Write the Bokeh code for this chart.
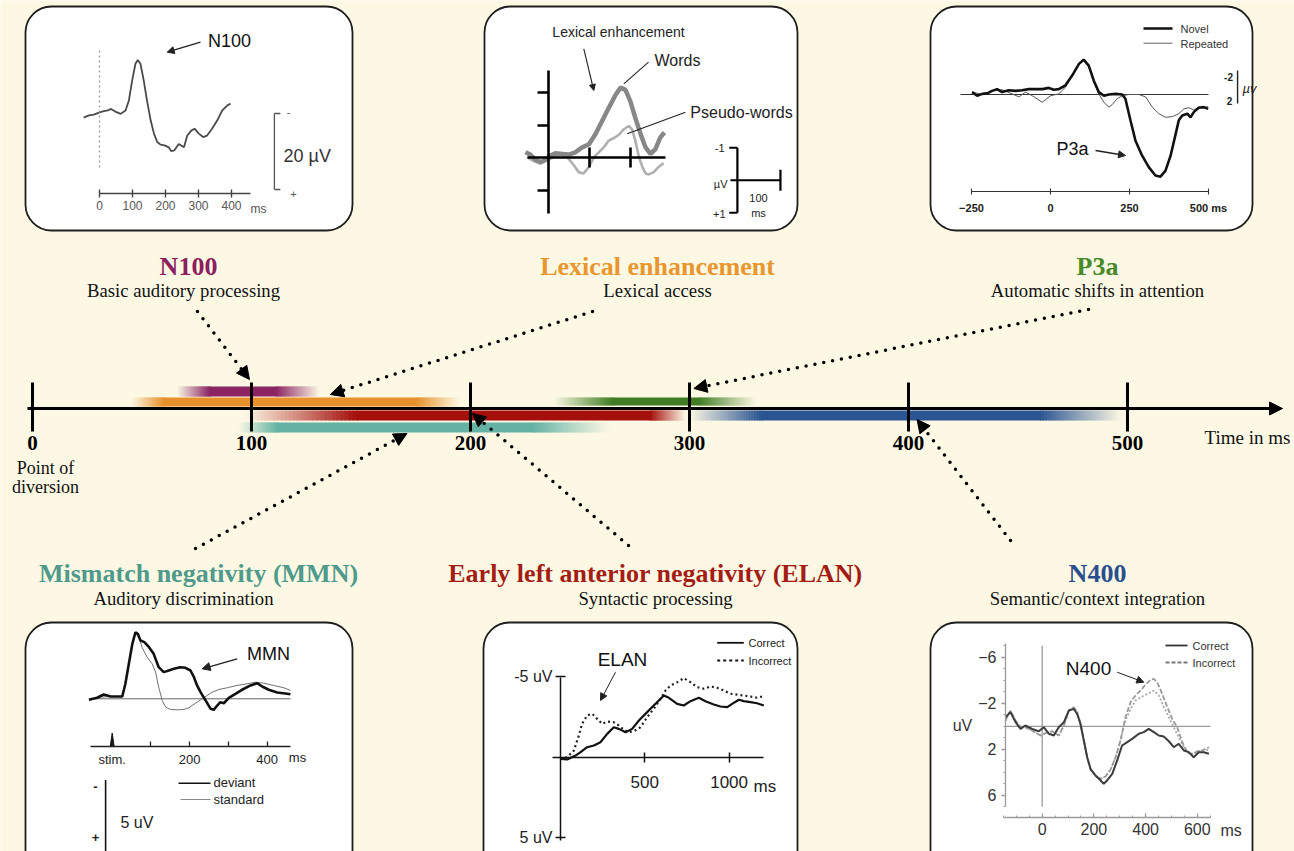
import numpy as np
from bokeh.plotting import figure
from bokeh.models import (Range1d, LinearAxis, FixedTicker, BoxAnnotation, Label,
                          Arrow, NormalHead)
from bokeh.embed import file_html
from bokeh.resources import INLINE

# ------------------------------------------------------------------ data
# timeline (ms)
timeline_ticks = [0, 100, 200, 300, 400, 500]
bar_names = ["N100", "Lexical enhancement", "ELAN", "MMN", "P3a", "N400"]
bar_colors = ["#8c2463", "#e8912b", "#a50f0c", "#63b2a4", "#3f7d22", "#2b5592"]
bar_fade_in_start = [66, 45, 97, 94, 238, 300]
bar_solid_start = [81, 60, 148, 112, 265, 333]
bar_solid_end = [111, 175, 282, 228, 304, 460]
bar_fade_out_end = [131, 195, 298, 263, 330, 497]
bar_lane_top = [386, 397, 410, 422, 397, 410]
bar_lane_bottom = [396, 406, 420, 432, 405, 420]

titles = ["N100", "Lexical enhancement", "P3a",
          "Mismatch negativity (MMN)", "Early left anterior negativity (ELAN)", "N400"]
subtitles = ["Basic auditory processing", "Lexical access", "Automatic shifts in attention",
             "Auditory discrimination", "Syntactic processing", "Semantic/context integration"]
title_colors = ["#8c1f60", "#e9962f", "#478a27", "#4f9a8b", "#a41d15", "#2a4f8f"]
arrow_target_ms = [100, 136, 302, 171, 200, 403]

# panel 1: N100 (ms, uV)
n100_t = [-48, -32, -17, 0, 13, 25, 35, 48, 64, 79, 89, 99, 109, 116, 124, 134, 144, 155, 165, 175,
          185, 197, 210, 217, 227, 240, 256, 266, 278, 288, 301, 314, 326, 341, 357, 372, 387, 397]
n100_v = [1.1, 0.5, 0.3, -0.3, -0.6, -0.8, -1.2, -0.5, 0.1, -0.8, -3.4, -8.7, -13.1, -14.1, -13.1, -8.7,
          -3.4, 1.8, 5.3, 7.5, 8.2, 8.4, 8.9, 9.9, 9.7, 8.0, 8.9, 5.8, 4.5, 4.0, 5.3, 6.2, 5.8, 4.0,
          1.8, -0.8, -2.1, -2.6]
n100_ticks = [0, 100, 200, 300, 400]

# panel 2: lexical enhancement (ms, uV)
words_t = [-57, -45, -32, -20, -8, 4, 16, 33, 49, 65, 81, 98, 114, 130, 146, 163, 175, 187, 199, 211,
           224, 236, 248, 260, 272, 282]
words_v = [-0.16, -0.09, 0.07, 0.14, 0.07, -0.06, -0.13, -0.11, -0.09, -0.16, -0.31, -0.41, -0.72,
           -1.12, -1.52, -1.93, -2.15, -2.08, -1.73, -1.22, -0.72, -0.31, -0.11, -0.26, -0.62, -0.77]
pseudo_t = [-53, -37, -20, -4, 12, 29, 45, 61, 73, 85, 98, 110, 122, 134, 146, 159, 171, 183, 195, 203,
            211, 220, 228, 236, 244, 256, 268, 280]
pseudo_v = [-0.01, 0.11, 0.19, 0.09, -0.01, -0.09, -0.01, 0.24, 0.45, 0.49, 0.29, -0.01, -0.16, -0.31,
            -0.52, -0.60, -0.70, -0.87, -0.97, -0.87, -0.52, -0.01, 0.29, 0.49, 0.52, 0.45, 0.29, 0.17]

# panel 3: P3a (ms, uV)
novel_t = [-248, -232, -216, -200, -185, -169, -153, -132, -111, -90, -69, -47, -26, -5, 10, 26, 47, 69,
           90, 105, 121, 137, 153, 169, 185, 206, 227, 237, 253, 269, 290, 311, 332, 348, 364, 380, 396,
           406, 417, 433, 443, 454, 469, 485, 499]
novel_v = [-0.4, 0.2, -0.1, -0.2, -0.6, -0.9, -0.4, -0.7, -0.6, -0.7, -0.9, -0.9, -0.9, -1.1, -0.8, -0.9,
           -1.5, -3.2, -5.1, -5.8, -4.8, -2.3, -0.4, 0.2, 0.0, -0.1, 0.0, 0.7, 4.3, 7.7, 10.2, 12.1, 13.5,
           13.7, 12.7, 10.2, 6.6, 4.3, 3.5, 3.2, 3.8, 2.9, 2.2, 2.1, 2.4]
repeated_t = [-248, -216, -185, -153, -121, -100, -79, -58, -26, 0, 26, 47, 69, 90, 105, 121, 137, 153,
              169, 185, 195, 211, 227, 248, 280, 301, 322, 343, 364, 385, 406, 422, 438, 454, 469, 485, 499]
repeated_v = [-0.4, 0.0, -0.6, -0.8, -0.1, 0.4, -0.4, 0.2, 1.3, 0.2, -0.1, -1.2, -3.3, -5.0, -5.7, -4.6,
              -2.1, -0.1, 1.3, 2.1, 1.7, 0.7, 0.2, 0.0, 0.0, 0.4, 2.1, 3.2, 3.8, 3.7, 3.2, 2.4, 2.2, 2.6,
              2.1, 2.2, 2.0]
p3a_ticks = [-250, 0, 250, 500]

# panel 4: MMN (ms, uV)
deviant_t = [-60, -39, -22, -4, 13, 26, 34, 43, 52, 60, 66, 73, 83, 95, 107, 120, 133, 146, 159, 176,
             189, 202, 211, 219, 228, 241, 254, 262, 271, 279, 288, 301, 318, 335, 357, 374, 387, 404,
             426, 447, 460]
deviant_v = [0.08, -0.08, -0.34, -0.18, -0.18, -0.18, -1.18, -2.76, -4.33, -5.24, -5.12, -4.59, -4.46,
             -4.06, -3.54, -2.49, -2.1, -2.23, -2.36, -2.49, -2.44, -2.23, -1.7, -1.05, -0.52, 0.13,
             0.79, 0.87, 0.53, 0.27, 0.35, -0.08, -0.39, -0.71, -1.05, -1.23, -0.97, -0.71, -0.5,
             -0.42, -0.36]
standard_t = [-60, -30, -4, 26, 34, 43, 52, 60, 69, 77, 90, 103, 112, 120, 129, 138, 150, 168, 185, 198,
              206, 219, 232, 245, 258, 275, 297, 322, 348, 370, 391, 417, 443, 460]
standard_v = [0.08, -0.13, -0.18, -0.18, -1.18, -2.76, -4.33, -5.16, -4.85, -4.06, -3.28, -2.76, -2.1,
              -0.92, 0.13, 0.66, 0.84, 0.87, 0.84, 0.71, 0.53, 0.27, 0.0, -0.26, -0.52, -0.73, -0.87,
              -1.05, -1.18, -1.31, -1.23, -1.05, -0.87, -0.66]
mmn_ticks = [0, 100, 200, 300, 400]
mmn_tick_labels = {0: "stim.", 100: " ", 200: "200", 300: " ", 400: "400"}

# panel 5: ELAN (ms, uV)
elan_correct_t = [0, 40, 89, 119, 158, 198, 237, 277, 316, 346, 386, 425, 465, 514, 553, 583, 613, 643,
                  692, 731, 771, 820, 860, 909, 949, 989, 1018, 1058, 1087, 1127, 1166, 1206]
elan_correct_v = [0.1, 0.14, -0.1, -0.31, -0.62, -0.73, -0.93, -1.45, -1.86, -1.76, -1.55, -1.76, -2.28,
                  -2.8, -3.21, -3.52, -3.83, -3.69, -3.31, -3.21, -3.48, -3.69, -3.48, -3.27, -3.15,
                  -3.11, -3.31, -3.57, -3.48, -3.42, -3.35, -3.21]
elan_incorrect_t = [0, 40, 79, 109, 128, 158, 188, 218, 247, 277, 316, 346, 376, 405, 435, 474, 514, 553,
                    593, 623, 652, 692, 731, 771, 811, 850, 890, 929, 969, 1008, 1048, 1087, 1127, 1166,
                    1196]
elan_incorrect_v = [0.1, 0.0, -0.41, -1.35, -2.07, -2.59, -2.7, -2.38, -2.07, -2.22, -2.17, -1.97, -1.7,
                    -1.55, -1.61, -1.86, -2.48, -3.0, -3.63, -4.14, -4.45, -4.66, -4.91, -4.66, -4.35,
                    -4.25, -4.39, -4.31, -4.14, -3.94, -3.89, -3.83, -3.77, -3.69, -3.77]
elan_x_ticks = [500, 1000]
elan_y_ticks = [-5, 5]

# panel 6: N400 (ms, uV)
n400_correct_t = [-142, -123, -103, -84, -65, -39, -13, 6, 26, 45, 64, 84, 103, 122, 135, 148, 161, 174,
                  187, 206, 226, 238, 251, 271, 290, 309, 329, 348, 374, 393, 412, 432, 451, 470, 490,
                  509, 528, 548, 567, 586, 606, 625, 645]
n400_correct_v = [-0.79, -1.23, -0.36, 0.22, -0.07, 0.22, 0.43, 0.08, 0.65, 0.8, 0.08, -0.36, -1.37,
                  -1.52, -1.09, -0.22, 1.23, 2.69, 3.7, 4.28, 4.71, 5.0, 4.71, 4.13, 2.97, 1.67, 1.38,
                  1.09, 0.65, 0.51, 0.22, 0.51, 0.8, 0.89, 1.3, 1.82, 1.52, 2.1, 2.25, 2.69, 2.25, 2.25,
                  2.39]
n400_incorrect_t = [-142, -123, -103, -84, -65, -39, -7, 13, 39, 64, 84, 103, 122, 135, 148, 161, 174,
                    187, 206, 226, 245, 264, 284, 303, 322, 342, 361, 380, 400, 419, 432, 445, 464, 484,
                    503, 522, 542, 561, 580, 600, 619, 645]
n400_incorrect_v = [-0.5, -1.37, -0.5, 0.08, 0.08, 0.37, 0.8, 0.6, 0.43, 0.8, -0.07, -1.37, -1.66,
                    -1.23, -0.22, 1.23, 2.69, 3.78, 4.28, 4.57, 4.36, 3.78, 2.69, 1.23, -0.79, -2.1,
                    -2.68, -3.11, -3.63, -4.04, -4.13, -3.83, -2.83, -1.66, -0.65, 0.08, 1.38, 2.25,
                    2.45, 2.17, 2.1, 1.82]
n400_incorrect2_t = [-142, -123, -103, -84, -65, -39, -7, 13, 39, 64, 84, 103, 122, 135, 148, 161, 174,
                     187, 206, 226, 245, 264, 284, 303, 322, 342, 361, 387, 413, 432, 451, 471, 490, 509,
                     528, 548, 567, 586, 606, 645]
n400_incorrect2_v = [-0.5, -1.37, -0.5, 0.08, 0.08, 0.37, 0.8, 0.6, 0.43, 0.8, -0.07, -1.37, -1.66,
                     -1.23, -0.22, 1.23, 2.69, 3.78, 4.28, 4.57, 4.36, 3.78, 2.69, 1.23, -0.5, -1.52,
                     -2.24, -2.59, -2.88, -3.11, -2.68, -1.66, -0.79, 0.08, 0.95, 1.82, 2.34, 2.39, 2.17,
                     2.05]
n400_x_ticks = [0, 200, 400, 600]
n400_y_ticks = [-6, -2, 2, 6]

# ------------------------------------------------------------------ figure
BG = "#fcf8e4"
W, H = 1294, 851
OX, OY = 0, 0
SANS = "Liberation Sans"
SERIF = "Liberation Serif"

p = figure(width=W, height=H, output_backend="svg", toolbar_location=None,
           x_range=Range1d(OX, OX + W), y_range=Range1d(OY + H, OY),
           x_axis_type=None, y_axis_type=None, min_border=0, title=None)
p.background_fill_color = BG
p.border_fill_color = BG
p.outline_line_color = None

XR, YR = {}, {}


def frame(name, xd, xp, yd, yp):
    d0, d1 = xd
    p0, p1 = xp
    s = (p1 - p0) / (d1 - d0)
    XR[name] = Range1d(start=d0 + (OX - p0) / s, end=d0 + (OX + W - p0) / s)
    v0, v1 = yd
    q0, q1 = yp
    t = (q1 - q0) / (v1 - v0)
    YR[name] = Range1d(start=v0 + (OY + H - q0) / t, end=v0 + (OY - q0) / t)


TL0, TL1 = 32, 1127
frame("tl", (0, 500), (TL0, TL1), (0, 1), (0, 1))
frame("p1", (0, 400), (99, 231), (0, 20), (113, 189))
frame("p2", (0, 100), (548.3, 589.3), (0, -1), (157, 124.5))
frame("p3", (0, 250), (1050, 1129), (0, 1), (94, 100))
frame("p4", (0, 400), (111.7, 266.7), (0, 1), (698.3, 711))
frame("p5", (0, 1000), (560, 728.6), (0, 1), (756.7, 772.8))
frame("p6", (0, 600), (1041.7, 1196.8), (0, 1), (725.8, 737.3))
p.extra_x_ranges = XR
p.extra_y_ranges = YR


def tl_px(ms):
    return TL0 + ms * (TL1 - TL0) / 500.0


def add_axis(fr, side, loc, bounds, ticks, minor=None, tin=0, tout=4, mtin=0, mtout=0,
             color="#222222", lw=1.5, size="12px", style="normal", font=SANS, lcolor="#222222",
             standoff=4, overrides=None, labels=True):
    ax = LinearAxis(x_range_name=fr, y_range_name=fr, fixed_location=loc, bounds=bounds,
                    ticker=FixedTicker(ticks=ticks, minor_ticks=minor or []),
                    axis_line_color=color, axis_line_width=lw,
                    major_tick_line_color=color, major_tick_line_width=lw,
                    major_tick_in=tin, major_tick_out=tout,
                    minor_tick_line_color=color, minor_tick_line_width=1,
                    minor_tick_in=mtin, minor_tick_out=mtout,
                    major_label_text_font=font, major_label_text_font_size=size,
                    major_label_text_font_style=style,
                    major_label_text_color=(lcolor if labels else None),
                    major_label_standoff=standoff)
    if overrides:
        ax.major_label_overrides = overrides
    p.add_layout(ax, side)
    return ax


def label(x, y, text, size="16px", font=SANS, color="#222222", align="center", style="normal"):
    p.add_layout(Label(x=x, y=y, text=text, text_font=font, text_font_size=size,
                       text_color=color, text_align=align, text_baseline="middle",
                       text_font_style=style))


def pointer(x0, y0, x1, y1, head=7, lw=1.3, color="#222222"):
    p.add_layout(Arrow(x_start=x0, y_start=y0, x_end=x1, y_end=y1, line_width=lw, line_color=color,
                       end=NormalHead(size=head, fill_color=color, line_color=color, line_width=1)))


def seg(x0, y0, x1, y1, fr="default", **kw):
    p.segment(x0=x0, y0=y0, x1=x1, y1=y1, x_range_name=fr, y_range_name=fr, **kw)


# ------------------------------------------------------------------ panel boxes
for (l, r, t, b) in [(25, 352, 6, 230), (484, 797, 6, 230), (930, 1252, 6, 230),
                     (25, 352, 622, 880), (483, 797, 622, 880), (930, 1252, 622, 880)]:
    p.add_layout(BoxAnnotation(left=l, right=r, top=t, bottom=b, border_radius=26,
                               fill_color="white", fill_alpha=1.0, line_color="#1e1e1e",
                               line_alpha=1.0, line_width=1.8, level="underlay"))

# ------------------------------------------------------------------ timeline bars


def blend(c, a):
    rgb = [int(c[i:i + 2], 16) for i in (1, 3, 5)]
    bg = [int(BG[i:i + 2], 16) for i in (1, 3, 5)]
    return "#%02x%02x%02x" % tuple(int(round(b0 + (v - b0) * a)) for v, b0 in zip(rgb, bg))


L, R, T, B, C = [], [], [], [], []
NS = 28
for i in range(len(bar_names)):
    s0, s1 = bar_fade_in_start[i], bar_solid_start[i]
    e0, e1 = bar_solid_end[i], bar_fade_out_end[i]
    for k in range(NS):
        L.append(s0 + (s1 - s0) * k / NS)
        R.append(s0 + (s1 - s0) * (k + 1) / NS + 0.5)
        C.append(blend(bar_colors[i], (k + 0.5) / NS))
        T.append(bar_lane_top[i]); B.append(bar_lane_bottom[i])
    L.append(s1); R.append(e0 + 0.5); C.append(bar_colors[i])
    T.append(bar_lane_top[i]); B.append(bar_lane_bottom[i])
    for k in range(NS):
        L.append(e0 + (e1 - e0) * k / NS)
        R.append(e0 + (e1 - e0) * (k + 1) / NS + 0.5)
        C.append(blend(bar_colors[i], 1 - (k + 0.5) / NS))
        T.append(bar_lane_top[i]); B.append(bar_lane_bottom[i])
p.quad(left=L, right=R, top=T, bottom=B, fill_color=C, line_color=None,
       x_range_name="tl", y_range_name="tl")

add_axis("tl", "below", 408, (-2.3, 565), timeline_ticks, tin=26, tout=23, color="black", lw=3,
         size="21px", style="bold", font=SERIF, lcolor="black", standoff=4)
p.add_layout(Arrow(x_start=1266, y_start=408, x_end=1282, y_end=408, line_width=3, line_color="black",
                   end=NormalHead(size=13, fill_color="black", line_color="black")))
label(45, 467, "Point of", size="18px", font=SERIF, color="#111111")
label(45, 486, "diversion", size="18px", font=SERIF, color="#111111")
label(1290, 437, "Time in ms", size="19px", font=SERIF, color="#111111", align="right")

# titles and dotted pointers
title_xy = [(188, 266), (657, 266), (1097, 266), (198, 573), (655, 573), (1097, 573)]
sub_xy = [(183, 290), (657, 290), (1097, 290), (183, 598), (655, 598), (1097, 598)]
arrow_start = [(197, 311), (592, 311), (1088, 309), (195, 548), (628, 545), (1010, 540)]
arrow_end_y = [379, 394, 388, 433, 413, 419]
arrow_dx = [-2, 0, 0, 0, 2, 2]
for i in range(6):
    label(*title_xy[i], titles[i], size="26px", font=SERIF, color=title_colors[i], style="bold")
    label(*sub_xy[i], subtitles[i], size="18.7px", font=SERIF, color="#111111")
    p.add_layout(Arrow(x_start=arrow_start[i][0], y_start=arrow_start[i][1],
                       x_end=tl_px(arrow_target_ms[i]) + arrow_dx[i], y_end=arrow_end_y[i],
                       line_width=3.5, line_color="black", line_dash="0 9", line_cap="round",
                       end=NormalHead(size=13, fill_color="black", line_color="black")))

# ------------------------------------------------------------------ panel 1: N100
p.line(n100_t, n100_v, x_range_name="p1", y_range_name="p1", line_color="#4a4a4a", line_width=1.8)
seg([0], [-16.6], [0], [15], fr="p1", line_color="#9a9a9a", line_width=1.3, line_dash="2 3")
add_axis("p1", "below", 21.05, (0, 458), n100_ticks, tin=4, tout=4, color="#444444", lw=1.4,
         size="12px", lcolor="#555555", standoff=4)
label(258, 208, "ms", size="12px", color="#555555")
seg([530, 530, 530], [0, 0, 20], [530, 548, 548], [20, 0, 20], fr="p1", line_color="#555555",
    line_width=1.3)
label(288, 111, "-", size="11px", color="#555555")
label(293, 193, "+", size="11px", color="#555555")
label(283, 155, "20 µV", size="18px", color="#333333", align="left")
label(229, 40, "N100", size="18px", color="#111111")
pointer(200, 41.7, 166.7, 51.7, head=7)

# ------------------------------------------------------------------ panel 2: lexical
p.line(pseudo_t, pseudo_v, x_range_name="p2", y_range_name="p2", line_color="#b0b0b0", line_width=2.6)
p.line(words_t, words_v, x_range_name="p2", y_range_name="p2", line_color="#878787", line_width=4.5)
add_axis("p2", "left", 0, (-2.68, 1.72), [-2, -1, 1], tin=0, tout=11, color="black", lw=2.6,
         labels=False)
add_axis("p2", "below", 0, (-53, 285), [100, 200], tin=10, tout=10, color="black", lw=2.6,
         labels=False)
seg([460, 440, 440, 443, 565], [-0.3, -0.3, 1.7, 0.7, 0.38], [460, 460, 460, 565, 565],
    [1.7, -0.3, 1.7, 0.7, 1.02], fr="p2", line_color="black", line_width=2.2)
label(724, 147, "-1", size="11px", align="right")
label(727, 183, "µV", size="11px", align="right")
label(725, 213, "+1", size="11px", align="right")
label(758, 197, "100", size="11px")
label(758, 212, "ms", size="11px")
label(618, 31, "Lexical enhancement", size="14px")
label(677, 60, "Words", size="16px")
label(741, 112, "Pseudo-words", size="16px")
pointer(583.3, 48.3, 593.3, 90, head=6, lw=1.1)
seg([648, 685], [61.7, 111.7], [623.3, 626.7], [83.3, 133.3], line_color="#222222", line_width=1.1)

# ------------------------------------------------------------------ panel 3: P3a
seg([-285], [0], [500], [0], fr="p3", line_color="#333333", line_width=1.0)
p.line(repeated_t, repeated_v, x_range_name="p3", y_range_name="p3", line_color="#555555",
       line_width=1.0)
p.line(novel_t, novel_v, x_range_name="p3", y_range_name="p3", line_color="#111111", line_width=2.6)
add_axis("p3", "below", 16.1, (-250, 500), p3a_ticks, tin=3, tout=3, color="#333333", lw=1.1,
         size="11px", style="bold", lcolor="#222222", standoff=8, overrides={500: "500 ms"})
seg([1143, 1143], [28, 42.7], [1172, 1172], [28, 42.7], line_color=["#111111", "#666666"],
    line_width=[2.5, 1.0])
label(1180, 28, "Novel", size="11px", color="#333333", align="left")
label(1180, 43, "Repeated", size="11px", color="#333333", align="left")
seg([592], [-4.0], [592], [1.5], fr="p3", line_color="#222222", line_width=1.4)
label(1228, 76, "-2", size="10px", style="bold", align="center")
label(1229, 100, "2", size="10px", style="bold", align="center")
label(1249, 88, "µv", size="13px", style="italic", align="center")
label(1072, 148, "P3a", size="18px", color="#111111")
pointer(1095, 150, 1125, 155, head=7)

# ------------------------------------------------------------------ panel 4: MMN
seg([-60], [0], [460], [0], fr="p4", line_color="#555555", line_width=0.9)
p.line(standard_t, standard_v, x_range_name="p4", y_range_name="p4", line_color="#707070",
       line_width=1.0)
p.line(deviant_t, deviant_v, x_range_name="p4", y_range_name="p4", line_color="#111111", line_width=2.6)
add_axis("p4", "below", 3.76, (-56, 460), mmn_ticks, tin=5, tout=0, color="#222222", lw=1.3,
         size="13px", lcolor="#222222", standoff=5, overrides=mmn_tick_labels)
p.patch([-5, 0, 5], [3.76, 2.7, 3.76], x_range_name="p4", y_range_name="p4", fill_color="#111111",
        line_color="#111111")
label(297, 757, "ms", size="13px")
seg([-17], [6.4], [-17], [12.0], fr="p4", line_color="#111111", line_width=1.6)
label(95, 786, "-", size="13px", style="bold")
label(95, 837, "+", size="13px", style="bold")
label(120, 822, "5 uV", size="16px", align="left")
seg([178, 180], [782.7, 799], [210, 210], [782.7, 799], line_color=["#111111", "#888888"],
    line_width=[1.6, 1.0])
label(213, 782, "deviant", size="13px", align="left")
label(213, 799, "standard", size="13px", align="left")
label(268, 653, "MMN", size="18px", color="#111111")
pointer(236.7, 658.3, 201.7, 668.3, head=8)

# ------------------------------------------------------------------ panel 5: ELAN
p.line(elan_incorrect_t, elan_incorrect_v, x_range_name="p5", y_range_name="p5", line_color="#222222",
       line_width=2.2, line_dash="2 3")
p.line(elan_correct_t, elan_correct_v, x_range_name="p5", y_range_name="p5", line_color="#111111",
       line_width=2.2)
add_axis("p5", "left", 0, (-4.95, 5.2), elan_y_ticks, tin=5, tout=5, color="#111111", lw=1.5,
         size="16px", lcolor="#222222", standoff=3, overrides={-5: "-5 uV", 5: "5 uV"})
add_axis("p5", "below", 0, (-49, 1206), elan_x_ticks, tin=5, tout=5, color="#111111", lw=1.5,
         size="17px", lcolor="#222222", standoff=14)
label(753, 786, "ms", size="17px", align="left")
seg([716.7], [642.3], [743.3], [642.3], line_color="#111111", line_width=1.8)
seg([716.7], [660], [743.3], [660], line_color="#111111", line_width=1.8, line_dash="3 3")
label(748, 642, "Correct", size="11px", align="left")
label(748, 660, "Incorrect", size="11px", align="left")
label(622, 659, "ELAN", size="19px", color="#111111")
pointer(615, 671.7, 600, 700, head=7, lw=1.0)

# ------------------------------------------------------------------ panel 6: N400
seg([-142, 0], [0, -7.0], [651, 0], [0, 7.0], fr="p6", line_color="#9a9a9a", line_width=1.3)
p.line(n400_incorrect2_t, n400_incorrect2_v, x_range_name="p6", y_range_name="p6",
       line_color="#a8a8a8", line_width=1.8, line_dash="2 2")
p.line(n400_incorrect_t, n400_incorrect_v, x_range_name="p6", y_range_name="p6",
       line_color="#9a9a9a", line_width=1.8, line_dash="5 2")
p.line(n400_correct_t, n400_correct_v, x_range_name="p6", y_range_name="p6", line_color="#3c3c3c",
       line_width=2.0)
add_axis("p6", "left", -142, (-7.2, 7.0), n400_y_ticks, minor=list(range(-7, 8)), tin=0, tout=4,
         mtin=0, mtout=2, color="#9a9a9a", lw=1.3, size="16px", lcolor="#333333", standoff=5)
add_axis("p6", "below", 7.96, (-150, 651), n400_x_ticks, minor=list(range(-150, 651, 50)), tin=4,
         tout=0, mtin=2, mtout=0, color="#9a9a9a", lw=1.3, size="16px", lcolor="#333333",
         standoff=5)
label(1220, 830, "ms", size="16px", color="#333333", align="left")
label(962, 725, "uV", size="16px", color="#333333")
seg([1165], [645], [1187], [645], line_color="#333333", line_width=1.8)
seg([1165], [662], [1187], [662], line_color="#777777", line_width=1.8, line_dash="4 2")
label(1192, 645, "Correct", size="11px", color="#333333", align="left")
label(1192, 662, "Incorrect", size="11px", color="#333333", align="left")
label(1088, 668, "N400", size="19px", color="#111111")
pointer(1116.7, 671.7, 1143.3, 681.7, head=7, lw=1.0)

open("out.html", "w").write(file_html(p, INLINE))
